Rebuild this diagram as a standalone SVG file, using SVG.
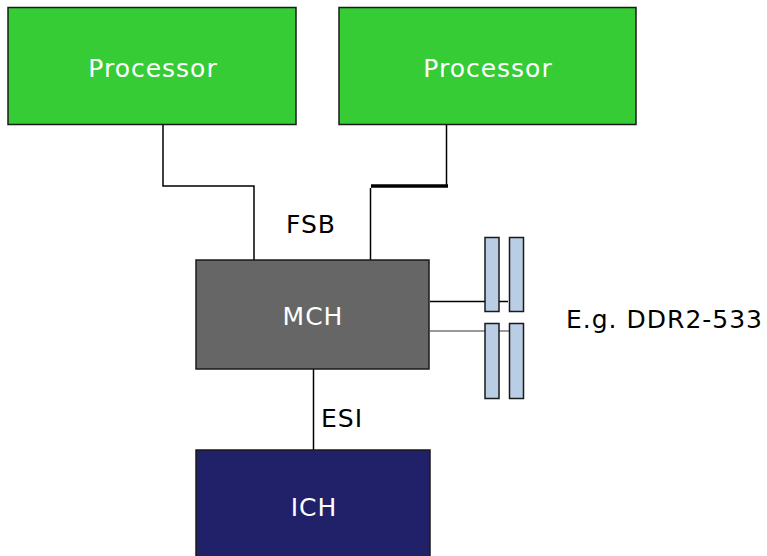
<svg xmlns="http://www.w3.org/2000/svg" width="767" height="556" viewBox="0 0 767 556">
  <style>
    text { font-family: "DejaVu Sans", Verdana, sans-serif; font-size: 25px; letter-spacing: 1px; }
    .light { fill: #ffffff; }
    .dark { fill: #000000; }
    .box { stroke: #1a1a1a; stroke-width: 1.5; }
    .wire { fill: none; stroke: #000000; stroke-width: 1.5; }
    .dimm { fill: #b9cde5; stroke: #1a1a1a; stroke-width: 1.5; }
  </style>
  <rect width="767" height="556" fill="#ffffff"/>

  <g id="connectors">
    <!-- FSB: left processor -->
    <polyline class="wire" points="163,125 163,186 254,186 254,260"/>
    <!-- FSB: right processor -->
    <polyline class="wire" points="446.5,125 446.5,186"/>
    <line x1="371" y1="186" x2="448" y2="186" stroke="#000" stroke-width="3.5"/>
    <line class="wire" x1="370.5" y1="188" x2="370.5" y2="260"/>
    <!-- memory channels -->
    <line class="wire" x1="430" y1="301.5" x2="508" y2="301.5"/>
    <line x1="430" y1="331" x2="509" y2="331" stroke="#777777" stroke-width="1.5"/>
    <!-- ESI -->
    <line class="wire" x1="313.5" y1="369" x2="313.5" y2="450"/>
  </g>

  <g id="proc1">
    <rect class="box" x="8" y="7.5" width="288" height="117" fill="#36cc36"/>
    <text class="light" x="153" y="77" text-anchor="middle">Processor</text>
  </g>
  <g id="proc2">
    <rect class="box" x="339" y="7.5" width="297" height="117" fill="#36cc36"/>
    <text class="light" x="488" y="77" text-anchor="middle">Processor</text>
  </g>

  <g id="fsb-label">
    <text class="dark" x="311" y="233" text-anchor="middle">FSB</text>
  </g>

  <g id="mch">
    <rect class="box" x="196" y="260" width="233" height="109" fill="#666666"/>
    <text class="light" x="313" y="325" text-anchor="middle">MCH</text>
  </g>

  <g id="dimms">
    <rect class="dimm" x="485" y="237.5" width="14" height="74"/>
    <rect class="dimm" x="509.5" y="237.5" width="14" height="74"/>
    <rect class="dimm" x="485" y="323.5" width="14" height="75"/>
    <rect class="dimm" x="509.5" y="323.5" width="14" height="75"/>
  </g>

  <g id="ddr-label">
    <text class="dark" x="566" y="328">E.g. DDR2-533</text>
  </g>

  <g id="esi-label">
    <text class="dark" x="321" y="426.5">ESI</text>
  </g>

  <g id="ich">
    <rect class="box" x="196" y="450" width="234" height="110" fill="#21216a"/>
    <text class="light" x="314" y="516" text-anchor="middle">ICH</text>
  </g>
</svg>
